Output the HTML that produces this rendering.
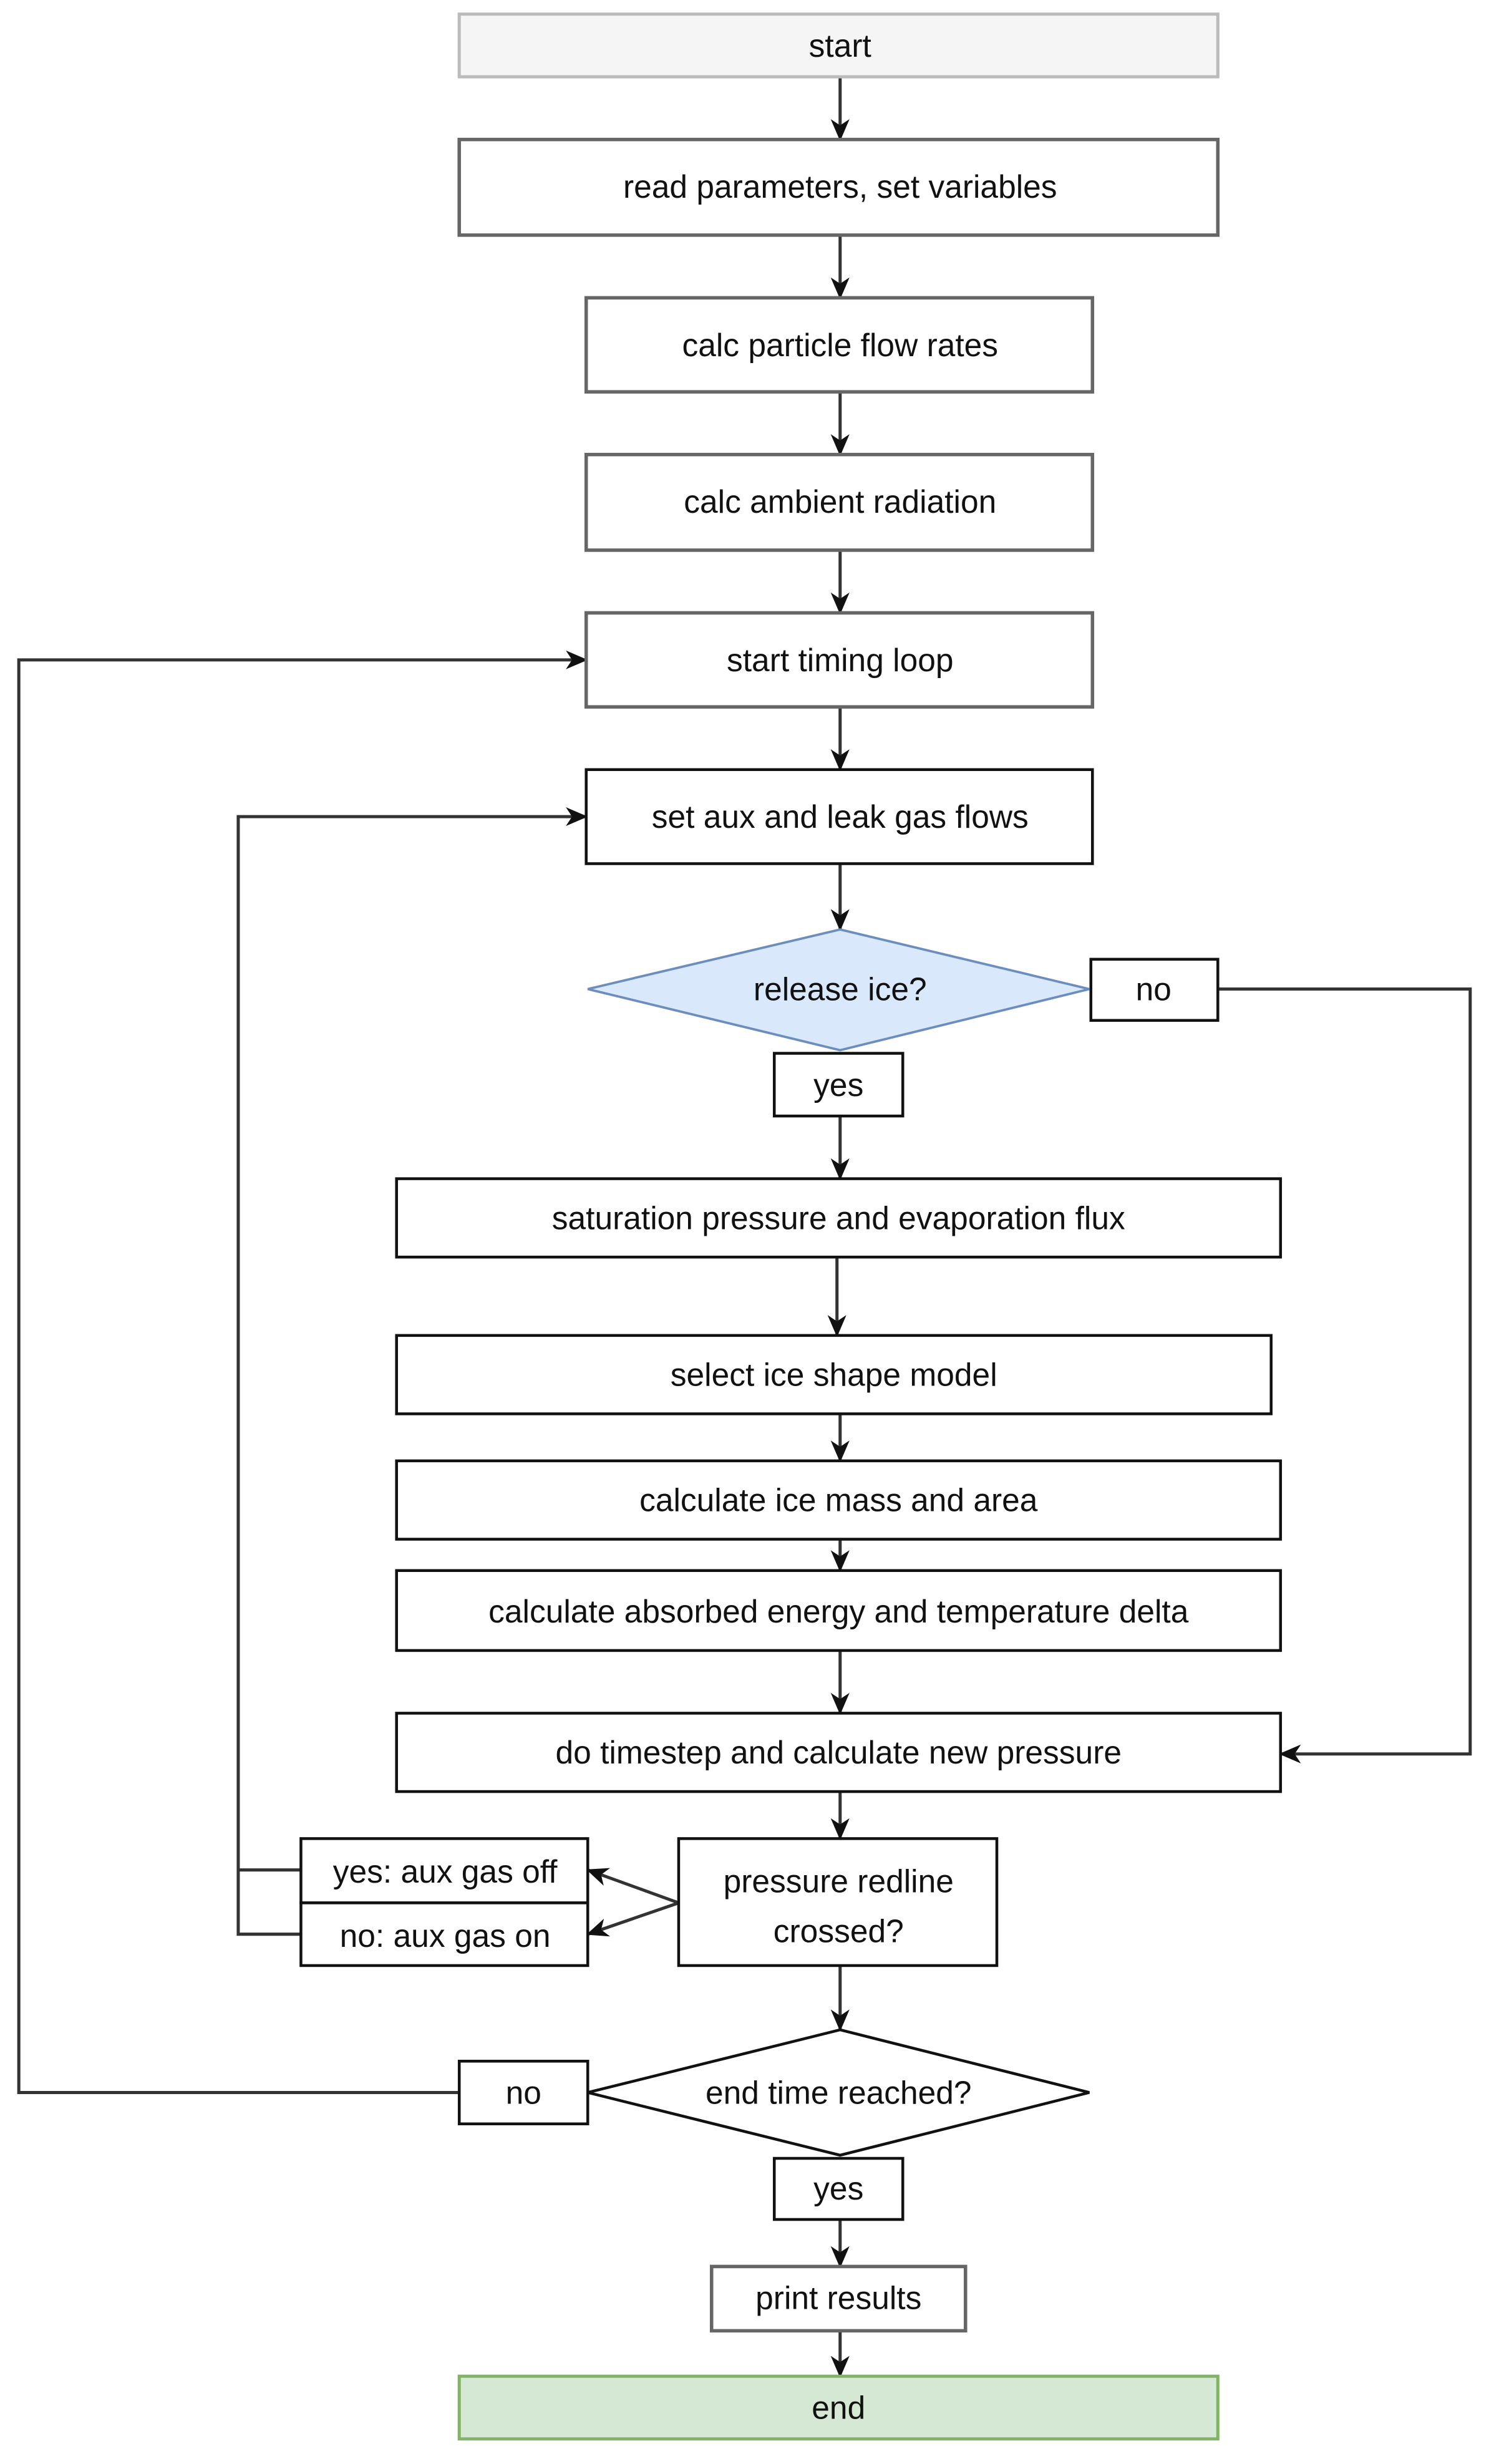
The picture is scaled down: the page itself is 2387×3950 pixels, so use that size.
<!DOCTYPE html>
<html><head><meta charset="utf-8"><style>
html,body{margin:0;padding:0;background:#fff}
svg{display:block}
text{font-family:"Liberation Sans",Arial,sans-serif;font-size:20.5px;fill:#111;text-anchor:middle;dominant-baseline:central}
</style></head><body>
<svg width="2387" height="3950" viewBox="0 0 950 1572" preserveAspectRatio="none">
<defs>
<marker id="a" markerWidth="14" markerHeight="12" refX="13" refY="6" orient="auto" markerUnits="userSpaceOnUse">
<path d="M0,0 L14,6 L0,12 L4,6 Z" fill="#111"/>
</marker>
</defs>
<g fill="none" stroke="#333" stroke-width="2">
<line x1="536" y1="49" x2="536" y2="89" marker-end="url(#a)"/>
<line x1="536" y1="150" x2="536" y2="190" marker-end="url(#a)"/>
<line x1="536" y1="250" x2="536" y2="290" marker-end="url(#a)"/>
<line x1="536" y1="351" x2="536" y2="391" marker-end="url(#a)"/>
<line x1="536" y1="451" x2="536" y2="491" marker-end="url(#a)"/>
<line x1="536" y1="551" x2="536" y2="593" marker-end="url(#a)"/>
<line x1="536" y1="712" x2="536" y2="752" marker-end="url(#a)"/>
<line x1="534" y1="802" x2="534" y2="852" marker-end="url(#a)"/>
<line x1="536" y1="902" x2="536" y2="932" marker-end="url(#a)"/>
<line x1="536" y1="982" x2="536" y2="1002" marker-end="url(#a)"/>
<line x1="536" y1="1053" x2="536" y2="1093" marker-end="url(#a)"/>
<line x1="536" y1="1143" x2="536" y2="1173" marker-end="url(#a)"/>
<line x1="536" y1="1254" x2="536" y2="1295" marker-end="url(#a)"/>
<line x1="536" y1="1416" x2="536" y2="1446" marker-end="url(#a)"/>
<line x1="536" y1="1487" x2="536" y2="1516" marker-end="url(#a)"/>
<polyline points="777,631 938,631 938,1119 817,1119" marker-end="url(#a)"/>
<polyline points="293,1335 12,1335 12,421 374,421" marker-end="url(#a)"/>
<polyline points="192,1193 152,1193"/>
<polyline points="192,1234 152,1234 152,521 374,521" marker-end="url(#a)"/>
<line x1="433" y1="1214" x2="375" y2="1193" marker-end="url(#a)"/>
<line x1="433" y1="1214" x2="375" y2="1234" marker-end="url(#a)"/>
</g>
<rect x="293" y="9" width="484" height="40" fill="#f5f5f5" stroke="#bbb" stroke-width="2"/>
<text x="536" y="29" fill="#333">start</text>
<g fill="#fff" stroke="#666" stroke-width="2.2">
<rect x="293" y="89" width="484" height="61"/>
<rect x="374" y="190" width="323" height="60"/>
<rect x="374" y="290" width="323" height="61"/>
<rect x="374" y="391" width="323" height="60"/>
<rect x="454" y="1446" width="162" height="41"/>
</g>
<g fill="#fff" stroke="#111" stroke-width="1.8">
<rect x="374" y="491" width="323" height="60"/>
<rect x="696" y="612" width="81" height="39"/>
<rect x="494" y="672" width="82" height="40"/>
<rect x="253" y="752" width="564" height="50"/>
<rect x="253" y="852" width="558" height="50"/>
<rect x="253" y="932" width="564" height="50"/>
<rect x="253" y="1002" width="564" height="51"/>
<rect x="253" y="1093" width="564" height="50"/>
<rect x="433" y="1173" width="203" height="81"/>
<rect x="192" y="1173" width="183" height="41"/>
<rect x="192" y="1214" width="183" height="40"/>
<polygon points="375,1335 536,1295 695,1335 536,1375"/>
<rect x="293" y="1315" width="82" height="40"/>
<rect x="494" y="1377" width="82" height="39"/>
</g>
<polygon points="375,631 536,593 695,631 536,670" fill="#dae8fc" stroke="#6c8ebf" stroke-width="1.5"/>
<rect x="293" y="1516" width="484" height="40" fill="#d5e8d4" stroke="#82b366" stroke-width="2"/>
<text x="536" y="119">read parameters, set variables</text>
<text x="536" y="220">calc particle flow rates</text>
<text x="536" y="320">calc ambient radiation</text>
<text x="536" y="421">start timing loop</text>
<text x="536" y="521">set aux and leak gas flows</text>
<text x="536" y="631">release ice?</text>
<text x="736" y="631">no</text>
<text x="535" y="692">yes</text>
<text x="535" y="777">saturation pressure and evaporation flux</text>
<text x="532" y="877">select ice shape model</text>
<text x="535" y="957">calculate ice mass and area</text>
<text x="535" y="1028">calculate absorbed energy and temperature delta</text>
<text x="535" y="1118">do timestep and calculate new pressure</text>
<text x="535" y="1200">pressure redline</text>
<text x="535" y="1232">crossed?</text>
<text x="284" y="1194">yes: aux gas off</text>
<text x="284" y="1235">no: aux gas on</text>
<text x="535" y="1335">end time reached?</text>
<text x="334" y="1335">no</text>
<text x="535" y="1396">yes</text>
<text x="535" y="1466">print results</text>
<text x="535" y="1536">end</text>
</svg>
</body></html>
